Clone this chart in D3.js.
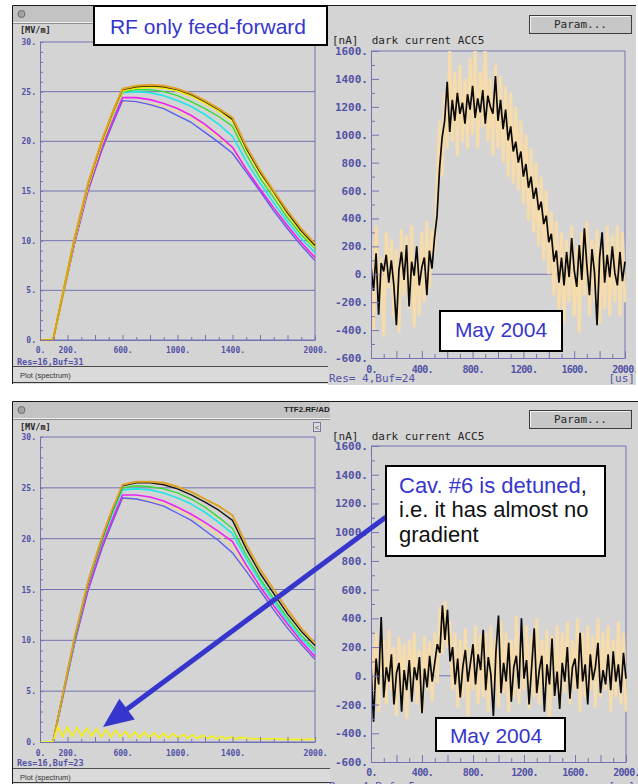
<!DOCTYPE html>
<html>
<head>
<meta charset="utf-8">
<title>RF only feed-forward / dark current ACC5</title>
<script src="https://cdn.jsdelivr.net/npm/d3@7"></script>
<style>
  body { margin: 0; background: #ffffff; }
  svg { display: block; }
</style>
</head>
<body>
<svg id="chart" width="638" height="784"></svg>
<script>
// ---- data -------------------------------------------------------------------

// cavity gradients [MV/m], sampled at these times [us]
var gradT = [0, 95, 150, 250, 350, 450, 520, 600, 700, 800, 900, 1000, 1100, 1200, 1300, 1400, 1500, 1600, 1700, 1800, 1900, 2000];

// May 2004, all cavities on
var topGold    = [0, 0, 3.6, 10.2, 15.8, 20.1, 22.7, 25.3, 25.6, 25.7, 25.6, 25.3, 24.8, 24.1, 23.3, 22.4, 19.5, 17.1, 15.0, 13.0, 11.2, 9.7];
var topBlack   = [0, 0, 3.6, 10.1, 15.7, 20.0, 22.6, 25.2, 25.5, 25.6, 25.5, 25.2, 24.7, 24.0, 23.2, 22.2, 19.3, 16.9, 14.9, 12.8, 11.0, 9.5];
var topYellow  = [0, 0, 3.6, 10.1, 15.6, 19.9, 22.5, 25.1, 25.4, 25.5, 25.4, 25.1, 24.6, 23.9, 23.1, 22.1, 19.2, 16.8, 14.8, 12.7, 10.9, 9.4];
var topGreen   = [0, 0, 3.6, 10.0, 15.6, 19.8, 22.4, 25.0, 25.2, 25.2, 25.0, 24.6, 24.0, 23.3, 22.5, 21.5, 18.7, 16.3, 14.3, 12.3, 10.6, 9.2];
var topCyan    = [0, 0, 3.5, 10.0, 15.5, 19.8, 22.3, 24.9, 25.0, 24.9, 24.6, 24.1, 23.5, 22.7, 21.7, 20.5, 18.0, 15.8, 13.8, 11.9, 10.2, 8.8];
var topMagenta = [0, 0, 3.5, 9.8, 15.2, 19.4, 21.8, 24.4, 24.4, 24.2, 23.8, 23.3, 22.6, 21.7, 20.6, 19.4, 17.2, 15.2, 13.3, 11.5, 9.8, 8.3];
var topBlue    = [0, 0, 3.4, 9.6, 15.0, 19.1, 21.5, 24.1, 24.0, 23.7, 23.3, 22.6, 21.9, 20.9, 19.9, 18.8, 16.9, 15.0, 13.0, 11.2, 9.5, 8.0];
var topKhaki   = [0, 0, 3.4, 9.6, 15.0, 19.0, 21.4, 24.0, 24.0, 23.8, 23.5, 23.0, 22.3, 21.4, 20.4, 19.3, 17.0, 15.0, 13.1, 11.3, 9.7, 8.1];

// cavity #6 detuned
var botGold    = [0, 0, 3.6, 10.2, 15.8, 20.1, 22.7, 25.3, 25.6, 25.6, 25.5, 25.1, 24.6, 23.9, 23.2, 22.3, 19.4, 17.0, 15.0, 13.0, 11.2, 9.7];
var botBlack   = [0, 0, 3.6, 10.1, 15.7, 20.0, 22.6, 25.2, 25.5, 25.5, 25.3, 24.9, 24.3, 23.6, 22.8, 21.8, 19.0, 16.6, 14.6, 12.6, 10.9, 9.5];
var botGreen   = [0, 0, 3.6, 10.0, 15.6, 19.8, 22.4, 25.0, 25.2, 25.1, 24.9, 24.5, 23.9, 23.1, 22.1, 21.0, 18.4, 16.1, 14.1, 12.2, 10.5, 9.1];
var botCyan    = [0, 0, 3.5, 9.9, 15.5, 19.7, 22.2, 24.8, 24.9, 24.8, 24.5, 24.0, 23.4, 22.6, 21.6, 20.5, 18.0, 15.8, 13.8, 11.9, 10.2, 8.8];
var botMagenta = [0, 0, 3.5, 9.8, 15.1, 19.3, 21.7, 24.3, 24.3, 24.1, 23.7, 23.1, 22.4, 21.6, 20.7, 19.7, 17.4, 15.3, 13.4, 11.6, 9.9, 8.4];
var botBlue    = [0, 0, 3.4, 9.6, 14.9, 19.0, 21.4, 24.0, 23.9, 23.6, 23.2, 22.5, 21.8, 20.8, 19.8, 18.6, 16.8, 14.9, 13.0, 11.2, 9.6, 8.1];
var botKhaki   = [0, 0, 3.4, 9.6, 14.9, 18.9, 21.3, 23.9, 23.9, 23.7, 23.4, 22.9, 22.2, 21.3, 20.3, 19.2, 17.0, 15.0, 13.1, 11.3, 9.7, 8.0];

// detuned cavity #6, ringing near zero
var detunedT = [0, 95, 130, 165, 200, 235, 270, 305, 340, 375, 410, 445, 480, 515, 550, 585, 620, 655, 690, 725, 760, 795, 830, 865,
                900, 935, 970, 1005, 1040, 1075, 1110, 1145, 1180, 1215, 1250, 1285, 1320, 1355, 1390, 1425, 1460, 1500, 1600, 1700, 1800, 1900, 2000];
var detunedV = [0, 0, 1.5, 0.55, 1.45, 0.55, 1.4, 0.55, 1.35, 0.55, 1.3, 0.5, 1.2, 0.5, 1.15, 0.5, 1.05, 0.45, 1.0, 0.45, 0.95, 0.45, 0.9, 0.4,
                0.85, 0.4, 0.8, 0.4, 0.75, 0.35, 0.7, 0.35, 0.65, 0.35, 0.6, 0.3, 0.55, 0.3, 0.5, 0.3, 0.45, 0.35, 0.3, 0.3, 0.25, 0.25, 0.25];

// dark current ACC5 [nA], one sample every 20 us from 0 to 2000 us
var dcStep = 20;
var dcTopTan = [250, -400, 350, -200, 120, -450, 300, -100, 250, -300, 180, -420, 320, -150, 280, -250, 350, -380, 200, -300, 300, -200, 380, -100, 320,
  150, 650, 1100, 700, 1300, 900, 1600, 950, 1450, 850, 1500, 950, 1400, 900, 1550, 1000, 1650, 900, 1450, 1050,
  1650, 950, 1400, 850, 1500, 900, 1420, 800, 1350, 700, 1300, 650, 1200, 600, 1100, 500, 1000, 380, 900, 300,
  800, 200, 700, 100, 600, 0, 450, -150, 380, -250,
  300, -350, 250, -200, 350, -300, 200, -420, 300, -150, 380, -300, 250, -200, 320, -350, 200, -250, 350, -300, 280, -200, 350, -300, 300, -200];
var dcTopBlack = [60, -120, 150, -290, 80, 20, 140, -60, 100, -80, -365, 30, 160, -40, 210, -230, 90, -10, 200, -80, 50, 120, -150, 170, 40,
  260, 420, 760, 980, 1100, 1380, 1020, 1250, 1100, 1300, 1150, 1230, 1080, 1290, 1180, 1350, 1120, 1260, 1160, 1320,
  1080, 1280, 1200, 1150, 1420, 1100, 1250, 1040, 1180, 960, 1060, 880, 950, 800, 880, 700, 790, 620, 700, 540,
  620, 460, 520, 360, 420, 230, 290, 90, 170, -60,
  120, -80, 160, -20, 260, 30, -90, 210, -40, 330, 60, -150, 180, 10, -365, 120, 300, -60, 140, -20, 200, 10, -80, 160, -50, 90];
var dcBotTan = [230, -150, 300, -250, 180, 250, -200, 320, -100, 200, -280, 270, -150, 220, -300, 250, -120, 300, -200, 180, -260, 280, -100, 240, -180,
  300, -50, 480, 150, 520, 200, 380, -100, 300, -220, 250, -150, 330, -280, 200, -100, 350, -200, 280, -150,
  300, -250, 350, -100, 260, -220, 380, -120, 300, -250, 250, -150, 420, -200, 300, -100, 350, -230, 280, -150,
  400, -200, 250, -100, 320, -380, 280, -150, 350, -220,
  300, -120, 380, -200, 250, -100, 400, -250, 300, -150, 350, -100, 280, -220, 400, -150, 300, -100, 350, -250, 250, -150, 380, -200, 300, -250];
var dcBotBlack = [80, -320, 120, -60, 410, -150, 60, -40, 150, -200, 20, 90, -250, 40, -100, 110, -180, 60, -30, 130, -260, 50, -80, 140, -40,
  90, 220, 160, 490, 250, 460, 100, 200, -60, 120, -150, 60, 180, -40, 90, 220, -60, 150, 40, 320,
  -100, 130, 10, -280, 170, 420, -120, 90, -40, 230, -180, 60, 140, -90, 400, -20, 110, -200, 60, 330,
  -120, 40, 140, -250, 80, -60, 260, -140, 30, -230,
  90, -40, 200, -160, 60, 120, -90, 300, -40, 80, -200, 150, -30, 60, 230, -120, 40, -60, 150, -100, 170, -40, 80, -120, 160, -20];

// ticks
var gradTicks = [0, 5, 10, 15, 20, 25, 30];
var gradXLabels = [0, 200, 600, 1000, 1400, 2000];
var curTicks = [-600, -400, -200, 0, 200, 400, 600, 800, 1000, 1200, 1400, 1600];
var curXLabels = [0, 400, 800, 1200, 1600, 2000];

// ---- drawing ------------------------------------------------------------------

var svg = d3.select("#chart");
var defs = svg.append("defs");

var BG = "#d4d4d4", GRID = "#7373b3", TICK = "#5252a6", INK = "#262626";
var MONO = "DejaVu Sans Mono, monospace", SANS = "Liberation Sans, Arial, sans-serif";

var clipCount = 0;
function clipRect(x, y, w, h) {
  var id = "clip" + clipCount++;
  defs.append("clipPath").attr("id", id).append("rect")
      .attr("x", x).attr("y", y).attr("width", w).attr("height", h);
  return "url(#" + id + ")";
}

function hline(g, x1, x2, y, color) {
  return g.append("line").attr("x1", x1).attr("x2", x2).attr("y1", y).attr("y2", y).attr("stroke", color);
}

function monoText(g, x, y, size, color, str) {
  return g.append("text").attr("x", x).attr("y", y)
      .attr("font-family", MONO).attr("font-size", size).attr("fill", color)
      .style("white-space", "pre").text(str);
}

function styleAxis(a, size) {
  a.attr("font-family", MONO).attr("font-size", size).attr("font-weight", "bold");
  a.select(".domain").attr("stroke", GRID);
  a.selectAll(".tick line").attr("stroke", GRID);
  a.selectAll(".tick text").attr("fill", TICK);
  return a;
}

function leftWindow(top, bottom, status) {
  var w = svg.append("g").attr("clip-path", clipRect(12, top, 318, bottom - top));
  w.append("rect").attr("x", 12).attr("y", top).attr("width", 318).attr("height", bottom - top).attr("fill", BG);
  w.append("rect").attr("x", 13).attr("y", top + 1).attr("width", 317).attr("height", 16).attr("fill", "#c3c3c3");
  hline(w, 13, 330, top + 17.5, "#efefef");
  hline(w, 13, 330, top + 18.5, "#8e8e8e");
  w.append("circle").attr("cx", 21.5).attr("cy", top + 9).attr("r", 3.5)
      .attr("fill", "#a4a4a4").attr("stroke", "#6a6a6a");
  w.append("rect").attr("x", 13).attr("y", status).attr("width", 317).attr("height", bottom - status).attr("fill", "#dadada");
  hline(w, 13, 330, status - 0.5, "#4d4d4d");
  hline(w, 13, 330, bottom - 1.5, "#3a3a3a");
  w.append("text").attr("x", 20).attr("y", status + 11)
      .attr("font-family", SANS).attr("font-size", 7.5).attr("fill", "#333").text("Plot (spectrum)");
  w.append("path").attr("d", "M12.5," + bottom + "V" + (top + 0.5) + "H330")
      .attr("fill", "none").attr("stroke", "#1a1a1a");
  return w;
}

function rightWindow(x0, x1, top, bottom, btnTop) {
  var w = svg.append("g").attr("clip-path", clipRect(x0, top, x1 - x0, bottom - top));
  w.append("rect").attr("x", x0).attr("y", top).attr("width", x1 - x0).attr("height", bottom - top).attr("fill", BG);
  hline(w, x0, x1, top + 0.5, "#1a1a1a");
  var b = w.append("g").attr("transform", "translate(529," + btnTop + ")");
  b.append("rect").attr("x", 0.5).attr("y", 0.5).attr("width", 102).attr("height", 18)
      .attr("fill", "#c7c7c7").attr("stroke", "#3c3c3c");
  b.append("path").attr("d", "M1.5,17V1.5H101").attr("stroke", "#f4f4f4").attr("fill", "none");
  b.append("text").attr("x", 51.5).attr("y", 13).attr("text-anchor", "middle")
      .attr("font-family", MONO).attr("font-size", 11).attr("fill", INK).text("Param...");
  return w;
}

function gradPanel(w, p, traces) {
  var x = d3.scaleLinear().domain([0, 2000]).range([40, 315]);
  var y = d3.scaleLinear().domain([0, 30]).range([p.y0, p.y30]);
  var g = w.append("g");

  g.selectAll("line.grid").data(gradTicks).join("line").attr("class", "grid")
      .attr("x1", x(0)).attr("x2", x(2000))
      .attr("y1", function (d) { return y(d); }).attr("y2", function (d) { return y(d); })
      .attr("stroke", GRID);
  g.append("line").attr("x1", x(2000)).attr("x2", x(2000)).attr("y1", y(0)).attr("y2", y(30)).attr("stroke", GRID);

  var plot = g.append("g").attr("clip-path", clipRect(40, p.y30 - 2, 276, p.y0 - p.y30 + 5));
  var line = d3.line().x(function (d, i) { return x(gradT[i]); }).y(function (d) { return y(d); });
  traces.forEach(function (t) {
    plot.append("path").datum(t.v).attr("d", line)
        .attr("fill", "none").attr("stroke", t.c).attr("stroke-width", t.w).attr("stroke-linejoin", "round");
  });
  if (p.detuned) {
    var dl = d3.line().x(function (d, i) { return x(detunedT[i]); }).y(function (d) { return y(d); });
    plot.append("path").datum(detunedV).attr("d", dl)
        .attr("fill", "none").attr("stroke", "#f2ee22").attr("stroke-width", 1.8);
  }

  styleAxis(g.append("g").attr("transform", "translate(" + x(0) + ",0)")
      .call(d3.axisLeft(y).tickValues(gradTicks).tickSize(0).tickSizeOuter(0).tickPadding(4)
        .tickFormat(function (d) { return d + "."; })), 8);
  var ym = styleAxis(g.append("g").attr("transform", "translate(" + x(0) + ",0)")
      .call(d3.axisRight(y).tickValues(d3.range(0, 31)).tickSize(3).tickFormat("")), 8);
  ym.select(".domain").remove();

  styleAxis(g.append("g").attr("transform", "translate(0," + y(0) + ")")
      .call(d3.axisTop(x).tickValues(d3.range(0, 2001, 200)).tickSize(5).tickSizeOuter(0).tickFormat("")), 8);
  var xMin = styleAxis(g.append("g").attr("transform", "translate(0," + y(0) + ")")
      .call(d3.axisTop(x).tickValues(d3.range(100, 2000, 200)).tickSize(3).tickFormat("")), 8);
  xMin.select(".domain").remove();
  var xl = styleAxis(g.append("g").attr("transform", "translate(0," + y(0) + ")")
      .call(d3.axisBottom(x).tickValues(gradXLabels).tickSize(0).tickPadding(p.xPad)
        .tickFormat(function (d) { return d + "."; })), 8);
  xl.select(".domain").remove();

  monoText(g, 20, p.unitY, 8.5, INK, "[MV/m]").attr("font-weight", "bold");
  monoText(g, 17, p.resY, 8.5, TICK, p.res).attr("font-weight", "bold");
}

function curPanel(w, p, tan, black) {
  var x = d3.scaleLinear().domain([0, 2000]).range([371, p.xEnd]);
  var y = d3.scaleLinear().domain([-600, 1600]).range([p.yLow, p.yHigh]);
  var g = w.append("g");

  g.append("line").attr("x1", x(0)).attr("x2", x(2000)).attr("y1", y(0)).attr("y2", y(0)).attr("stroke", GRID);
  g.append("path").attr("d", "M" + x(0) + "," + y(1600) + "H" + x(2000) + "V" + y(-600))
      .attr("fill", "none").attr("stroke", GRID);

  var plot = g.append("g").attr("clip-path", clipRect(371, p.yHigh, p.xEnd - 371 + 1, p.yLow - p.yHigh));
  var line = d3.line().x(function (d, i) { return x(i * dcStep); }).y(function (d) { return y(d); });
  plot.append("path").datum(tan).attr("d", line)
      .attr("fill", "none").attr("stroke", "#f6dbab").attr("stroke-width", 3);
  plot.append("path").datum(black).attr("d", line)
      .attr("fill", "none").attr("stroke", "#0a0a0a").attr("stroke-width", 1.7);

  styleAxis(g.append("g").attr("transform", "translate(" + x(0) + ",0)")
      .call(d3.axisLeft(y).tickValues(curTicks).tickSize(0).tickSizeOuter(0).tickPadding(3)
        .tickFormat(function (d) { return d + "."; })), 11);
  var yMaj = styleAxis(g.append("g").attr("transform", "translate(" + x(0) + ",0)")
      .call(d3.axisRight(y).tickValues(curTicks).tickSize(8).tickFormat("")), 11);
  yMaj.select(".domain").remove();
  var yMin = styleAxis(g.append("g").attr("transform", "translate(" + x(0) + ",0)")
      .call(d3.axisRight(y).tickValues(d3.range(-500, 1600, 200)).tickSize(4).tickFormat("")), 11);
  yMin.select(".domain").remove();

  styleAxis(g.append("g").attr("transform", "translate(0," + y(-600) + ")")
      .call(d3.axisTop(x).tickValues(d3.range(0, 2001, 200)).tickSize(7).tickSizeOuter(0).tickFormat("")), 10);
  var xMin = styleAxis(g.append("g").attr("transform", "translate(0," + y(-600) + ")")
      .call(d3.axisTop(x).tickValues(d3.range(100, 2000, 200)).tickSize(4).tickFormat("")), 10);
  xMin.select(".domain").remove();
  var xl = styleAxis(g.append("g").attr("transform", "translate(0," + y(-600) + ")")
      .call(d3.axisBottom(x).tickValues(curXLabels).tickSize(0).tickPadding(p.xPad)
        .tickFormat(function (d) { return d + "."; })), 10);
  xl.select(".domain").remove();
  xl.selectAll(".tick text").attr("letter-spacing", -0.7);

  monoText(g, 332, p.unitY, 11, INK, "[nA]  dark current ACC5");
  monoText(g, 329, p.resY, 11, TICK, p.res);
  monoText(g, 635, p.resY, 11, TICK, "[us]").attr("text-anchor", "end");
}

// ---- top row: RF only feed-forward ----
var tl = leftWindow(5, 384, 367);
gradPanel(tl, { y0: 340, y30: 42, xPad: 7, unitY: 33, resY: 365, res: "Res=16,Buf=31" }, [
  { v: topKhaki, c: "#eedc8a", w: 1.4 },
  { v: topBlue, c: "#5c5cf0", w: 1.4 },
  { v: topMagenta, c: "#f020f0", w: 1.6 },
  { v: topCyan, c: "#20e6e6", w: 1.6 },
  { v: topGreen, c: "#34dc34", w: 1.4 },
  { v: topYellow, c: "#f4f000", w: 2.4 },
  { v: topBlack, c: "#141414", w: 1.4 },
  { v: topGold, c: "#dfa226", w: 2 }
]);

var tr = rightWindow(328, 636, 5, 385, 15);
curPanel(tr, { xEnd: 625, yLow: 358, yHigh: 51, xPad: 8, unitY: 44, resY: 382, res: "Res= 4,Buf=24" }, dcTopTan, dcTopBlack);

// ---- bottom row: cavity #6 detuned ----
var bl = leftWindow(401, 784, 769);
gradPanel(bl, { y0: 742, y30: 437, xPad: 8, unitY: 430, resY: 766, res: "Res=16,Buf=23", detuned: true }, [
  { v: botKhaki, c: "#eedc8a", w: 1.4 },
  { v: botBlue, c: "#5c5cf0", w: 1.4 },
  { v: botMagenta, c: "#f020f0", w: 1.6 },
  { v: botCyan, c: "#20e6e6", w: 1.6 },
  { v: botGreen, c: "#34dc34", w: 1.4 },
  { v: botBlack, c: "#141414", w: 1.4 },
  { v: botGold, c: "#dfa226", w: 2 }
]);
bl.append("text").attr("x", 284).attr("y", 412).attr("font-family", SANS).attr("font-size", 8)
    .attr("font-weight", "bold").attr("fill", "#222").text("TTF2.RF/AD");
bl.append("rect").attr("x", 313.5).attr("y", 422.5).attr("width", 7).attr("height", 9)
    .attr("fill", "#dcdcdc").attr("stroke", "#7a7aa8");
bl.append("text").attr("x", 317).attr("y", 430).attr("text-anchor", "middle").attr("font-family", SANS)
    .attr("font-size", 8).attr("fill", "#555").text("<");

var br = rightWindow(330, 638, 401, 784, 410);
curPanel(br, { xEnd: 626, yLow: 762, yHigh: 446, xPad: 7, unitY: 440, resY: 790, res: "Res= 4,Buf= 5" }, dcBotTan, dcBotBlack);

// ---- annotations ----
function noteBox(x, y, w, h) {
  return svg.append("rect").attr("x", x).attr("y", y).attr("width", w).attr("height", h)
      .attr("fill", "#ffffff").attr("stroke", "#000").attr("stroke-width", 2);
}
var NOTE_BLUE = "#3636cc";

noteBox(94, 6, 233, 39);
svg.append("text").attr("x", 208).attr("y", 34).attr("text-anchor", "middle")
    .attr("font-family", SANS).attr("font-size", 21).attr("fill", NOTE_BLUE).text("RF only feed-forward");

noteBox(440, 311, 122, 40);
svg.append("text").attr("x", 501).attr("y", 337).attr("text-anchor", "middle")
    .attr("font-family", SANS).attr("font-size", 21).attr("fill", NOTE_BLUE).text("May 2004");

// arrow from the note to the detuned cavity trace
var arrowFrom = [386, 517], arrowTip = [103, 727];
var adx = arrowTip[0] - arrowFrom[0], ady = arrowTip[1] - arrowFrom[1];
var alen = Math.sqrt(adx * adx + ady * ady), ux = adx / alen, uy = ady / alen;
var headLen = 30, headHalf = 13;
var base = [arrowTip[0] - ux * headLen, arrowTip[1] - uy * headLen];
svg.append("line").attr("x1", arrowFrom[0]).attr("y1", arrowFrom[1])
    .attr("x2", base[0] + ux * 4).attr("y2", base[1] + uy * 4)
    .attr("stroke", NOTE_BLUE).attr("stroke-width", 5);
svg.append("path").attr("fill", NOTE_BLUE).attr("d",
    "M" + arrowTip[0] + "," + arrowTip[1] +
    "L" + (base[0] - uy * headHalf) + "," + (base[1] + ux * headHalf) +
    "L" + (base[0] + uy * headHalf) + "," + (base[1] - ux * headHalf) + "Z");

noteBox(386, 466, 219, 90);
var cav = svg.append("text").attr("font-family", SANS).attr("font-size", 22).attr("fill", "#111");
var l1 = cav.append("tspan").attr("x", 399).attr("y", 493);
l1.append("tspan").attr("fill", NOTE_BLUE).text("Cav. #6 is detuned");
l1.append("tspan").text(",");
cav.append("tspan").attr("x", 399).attr("y", 517).text("i.e. it has almost no");
cav.append("tspan").attr("x", 399).attr("y", 542).text("gradient");

noteBox(436, 718, 129, 33);
svg.append("text").attr("x", 496).attr("y", 743).attr("text-anchor", "middle")
    .attr("clip-path", clipRect(437, 719, 127, 26))
    .attr("font-family", SANS).attr("font-size", 21).attr("fill", NOTE_BLUE).text("May 2004");
</script>
</body>
</html>
